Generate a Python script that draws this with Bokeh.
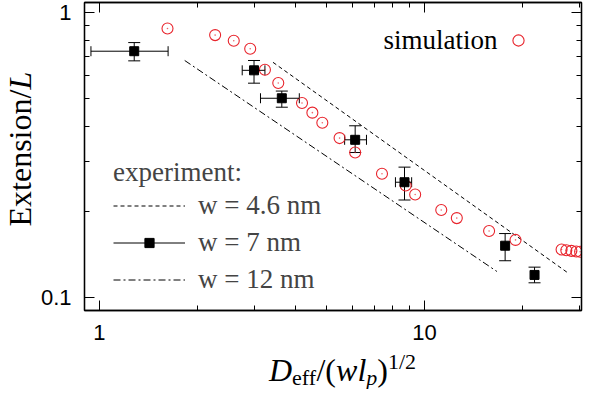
from math import pi
from bokeh.plotting import figure
from bokeh.layouts import row, column
from bokeh.models import (Range1d, LogAxis, Label, Legend, LegendItem, Whisker,
                          TeeHead, ColumnDataSource, CustomJSTickFormatter,
                          FixedTicker)
from bokeh.embed import file_html
from bokeh.resources import INLINE

# ---------------- data ----------------
sim_x = [1.62, 2.27, 2.59, 2.91, 3.23, 3.55, 4.20, 4.52, 4.85, 5.48, 6.12, 7.40,
         8.75, 9.36, 11.26, 12.57, 15.8, 19.05, 26.4, 27.3, 28.3, 29.3, 30.1]
sim_y = [0.881, 0.835, 0.798, 0.748, 0.631, 0.567, 0.482, 0.446, 0.411, 0.363,
         0.323, 0.272, 0.2475, 0.230, 0.203, 0.190, 0.1713, 0.1593, 0.1474,
         0.1466, 0.1458, 0.1450, 0.1447]

exp_x = [1.28, 2.99, 3.64, 6.12, 8.68, 17.7, 21.8]
exp_y = [0.733, 0.628, 0.501, 0.358, 0.254, 0.152, 0.120]
exp_xlo = [0.942, 2.75, 3.13, 5.68, 8.14, 17.7, 21.8]
exp_xhi = [1.627, 3.23, 4.12, 6.63, 9.13, 17.7, 21.8]
exp_ylo = [0.678, 0.566, 0.466, 0.323, 0.220, 0.1346, 0.1126]
exp_yhi = [0.786, 0.680, 0.531, 0.401, 0.287, 0.1677, 0.1278]

w46_x = [3.42, 27.5]
w46_y = [0.670, 0.1224]
w12_x = [1.83, 16.7]
w12_y = [0.680, 0.1234]

x_major = [1, 10]
x_minor = [2, 3, 4, 5, 6, 7, 8, 9, 20, 30]
y_major = [0.1, 1]
y_minor = [0.2, 0.3, 0.4, 0.5, 0.6, 0.7, 0.8, 0.9]

SERIF = "Liberation Serif"
RED = "#e8242c"
DROP = 0.26   # observed baseline drop of SVG text, as fraction of font size

# ---------------- main figure ----------------
YW = 37          # width of the y-title strip
MH = 349         # height of main figure
p = figure(width=585 - YW, height=MH, x_axis_type="log", y_axis_type="log",
           x_range=Range1d(0.9, 30.4), y_range=Range1d(0.09, 1.087),
           output_backend="svg", toolbar_location=None,
           min_border_left=81 - YW, min_border_right=4, min_border_top=2,
           min_border_bottom=39)
p.grid.visible = False
p.outline_line_color = "black"
p.outline_line_width = 1.3

fmt = CustomJSTickFormatter(code="return String(Number(tick.toPrecision(3)));")
blank = CustomJSTickFormatter(code="return '';")
xt = FixedTicker(ticks=x_major, minor_ticks=x_minor)
yt = FixedTicker(ticks=y_major, minor_ticks=y_minor)


def style_axis(ax, ticker, labels=True):
    ax.ticker = ticker
    ax.axis_line_color = "black"
    ax.axis_line_width = 1.3
    ax.major_tick_line_color = "black"
    ax.minor_tick_line_color = "black"
    ax.major_tick_in = 10
    ax.major_tick_out = 0
    ax.minor_tick_in = 5
    ax.minor_tick_out = 0
    if labels:
        ax.formatter = fmt
        ax.major_label_text_font = "Liberation Sans"
        ax.major_label_text_font_size = "22px"
        ax.major_label_text_color = "black"
        ax.major_label_standoff = 14
    else:
        ax.formatter = blank
        ax.major_label_text_font_size = "0px"
        ax.major_label_standoff = 0


style_axis(p.xaxis[0], xt)
style_axis(p.yaxis[0], yt)
p.yaxis[0].major_label_standoff = 13
top = LogAxis()
right = LogAxis()
style_axis(top, xt, labels=False)
style_axis(right, yt, labels=False)
p.add_layout(top, "above")
p.add_layout(right, "right")

# ---------------- glyphs ----------------
l46 = p.line(w46_x, w46_y, line_color="black", line_width=1, line_dash="4 3")
l12 = p.line(w12_x, w12_y, line_color="black", line_width=1, line_dash="7 3 2 3")

sim = p.scatter(sim_x, sim_y, marker="circle", size=11, line_color=RED,
                fill_color=None, line_width=1.1)
simdot = p.scatter(sim_x, sim_y, marker="circle", size=1.6, line_color=None,
                   fill_color=RED, fill_alpha=0.7)

src = ColumnDataSource(dict(x=exp_x, y=exp_y, ylo=exp_ylo, yhi=exp_yhi))
idx = [i for i in range(len(exp_x)) if exp_xhi[i] > exp_xlo[i]]
srcx = ColumnDataSource(dict(y=[exp_y[i] for i in idx],
                             xlo=[exp_xlo[i] for i in idx],
                             xhi=[exp_xhi[i] for i in idx]))
xbar = p.segment(x0="xlo", y0="y", x1="xhi", y1="y", source=srcx,
                 line_color="black", line_width=1)
p.add_layout(Whisker(source=srcx, base="y", lower="xlo", upper="xhi",
                     dimension="width", line_alpha=0,
                     lower_head=TeeHead(size=10, line_color="black", line_width=1),
                     upper_head=TeeHead(size=10, line_color="black", line_width=1)))
p.add_layout(Whisker(source=src, base="x", lower="ylo", upper="yhi",
                     dimension="height", line_color="black", line_width=1,
                     lower_head=TeeHead(size=12, line_color="black", line_width=1),
                     upper_head=TeeHead(size=12, line_color="black", line_width=1)))
sq = p.scatter("x", "y", source=src, marker="square", size=9, color="black")

# ---------------- legends ----------------
leg = Legend(items=[LegendItem(label="w = 4.6 nm", renderers=[l46]),
                    LegendItem(label="w = 7 nm", renderers=[xbar, sq]),
                    LegendItem(label="w = 12 nm", renderers=[l12])],
             title="experiment:", location=(29, 15),
             glyph_width=72, glyph_height=23, label_height=23, spacing=6,
             label_standoff=13, padding=0, margin=0,
             label_text_font=SERIF, label_text_font_size="27px",
             title_text_font=SERIF, title_text_font_size="27px",
             title_text_font_style="normal", title_standoff=2,
             background_fill_alpha=0, border_line_alpha=0)
p.add_layout(leg)

leg2 = Legend(items=[LegendItem(label=" ", renderers=[sim])],
              location=(420, 256),
              glyph_width=28, glyph_height=28, label_height=28, padding=0, margin=0,
              label_standoff=0, label_text_font_size="10px",
              background_fill_alpha=0, border_line_alpha=0)
p.add_layout(leg2)

FL, FB = 81, 310   # frame left / bottom in picture px


def lab(fig, text, sx, sy, size, style="normal", angle=0.0, align="left"):
    fig.add_layout(Label(x=sx, y=sy, x_units="screen", y_units="screen",
                         text=text, text_font=SERIF, text_font_size=f"{size}px",
                         text_font_style=style, text_color="black", angle=angle,
                         text_align=align, text_baseline="alphabetic"))


lab(p, "simulation", 494 - FL, FB - 47 + DROP * 27, 27, align="right")


def strip(w, h):
    f = figure(width=w, height=h, x_range=Range1d(0, 1), y_range=Range1d(0, 1),
               x_axis_location=None, y_axis_location=None,
               output_backend="svg", toolbar_location=None,
               min_border_left=0, min_border_right=0, min_border_top=0,
               min_border_bottom=0)
    f.grid.visible = False
    f.outline_line_color = None
    return f


# ---------------- x axis title: D_eff/(wl_p)^{1/2} ----------------
XH = 389 - MH
xlab = strip(585 - YW, XH)      # its frame is aligned with the main frame
F, S = 32, 22
pieces = [("D", "italic", F, 0, 0.722), ("eff", "normal", S, -5, 1.11),
          ("/(", "normal", F, 0, 0.611), ("wl", "italic", F, 0, 0.945),
          ("p", "italic", S, -5, 0.5), (")", "normal", F, 0, 0.333),
          ("1/2", "normal", S, 11, 1.278)]
total = sum(pc[2] * pc[4] for pc in pieces)
cx = (339 - FL) - total / 2
base = 389 - 378
for t, st, sz, dy, w in pieces:
    lab(xlab, t, cx, base + dy + DROP * sz, sz, style=st)
    cx += sz * w

# ---------------- y axis title: Extension/L (rotated) ----------------
ylab = strip(YW, 389)
YS = 32
bx = 30 - 0.33 * YS
lab(ylab, "Extension/", bx, 389 - 226, YS, angle=pi / 2)
lab(ylab, "L", bx, 389 - 226 + 4.278 * YS, YS, style="italic", angle=pi / 2)

layout = row(ylab, column(p, xlab))
open("out.html", "w").write(file_html(layout, INLINE))
